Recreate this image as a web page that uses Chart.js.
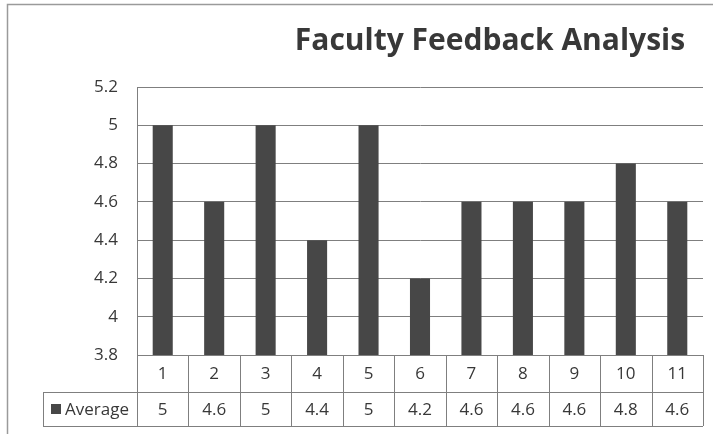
<!DOCTYPE html>
<html>
<head>
<meta charset="utf-8">
<script src="https://cdn.jsdelivr.net/npm/chart.js@4/dist/chart.umd.min.js"></script>
<style>
html,body{margin:0;padding:0;background:#fff;}
#wrap{width:713px;height:434px;position:relative;}
</style>
</head>
<body>
<div id="wrap"><canvas id="c" width="713" height="434"></canvas></div>
<script>
// faculty numbers and their average feedback score
const faculty = ["1","2","3","4","5","6","7","8","9","10","11"];
const average = [5, 4.6, 5, 4.4, 5, 4.2, 4.6, 4.6, 4.6, 4.8, 4.6];
const seriesName = "Average";
const chartTitle = "Faculty Feedback Analysis";

const FONT = "'Open Sans', 'DejaVu Sans', sans-serif";
const TEXT = "#383838";
const LINE = "#7f7f7f";
const BAR = "#474747";

// outer frame + title + data table under the plot
const tablePlugin = {
    id: "dataTable",
    afterDraw(chart){
        const ctx = chart.ctx, a = chart.chartArea, x = chart.scales.x;
        const row1 = a.bottom, row2 = a.bottom + 37, row3 = a.bottom + 71;
        const legendLeft = 43;
        ctx.save();
        // frame
        ctx.strokeStyle = "#9a9a9a"; ctx.lineWidth = 1.5;
        ctx.beginPath(); ctx.moveTo(7.5, 434); ctx.lineTo(7.5, 4.5); ctx.lineTo(713, 4.5); ctx.stroke();

        // title
        ctx.fillStyle = TEXT;
        ctx.font = "bold 30px " + FONT;
        ctx.textAlign = "center"; ctx.textBaseline = "middle";
        ctx.fillText(chartTitle, 490, 41);

        // grid of the table
        ctx.strokeStyle = LINE; ctx.lineWidth = 1;
        ctx.beginPath();
        ctx.moveTo(a.left, row1 + .5); ctx.lineTo(a.right, row1 + .5);
        ctx.moveTo(legendLeft, row2 + .5); ctx.lineTo(a.right, row2 + .5);
        ctx.moveTo(legendLeft, row3 + .5); ctx.lineTo(a.right, row3 + .5);
        ctx.moveTo(legendLeft + .5, row2); ctx.lineTo(legendLeft + .5, row3);
        const w = (a.right - a.left) / faculty.length;
        for(let i = 0; i <= faculty.length; i++){
            const px = Math.round(a.left + i * w) + .5;
            ctx.moveTo(px, row1); ctx.lineTo(px, row3);
        }
        ctx.stroke();

        // labels and values
        ctx.font = "17px " + FONT;
        ctx.fillStyle = TEXT;
        faculty.forEach((f, i) => {
            const cx = x.getPixelForValue(i);
            ctx.fillText(f, cx, (row1 + row2) / 2 + 1);
            ctx.fillText(String(average[i]), cx, (row2 + row3) / 2 + 1);
        });

        // legend key
        ctx.fillStyle = BAR;
        ctx.fillRect(51, (row2 + row3) / 2 - 5, 10, 10);
        ctx.fillStyle = TEXT;
        ctx.textAlign = "left";
        ctx.fillText(seriesName, 65, (row2 + row3) / 2 + 1);
        ctx.restore();
    }
};

new Chart(document.getElementById("c"), {
    type: "bar",
    data: {
        labels: faculty,
        datasets: [{
            label: seriesName,
            data: average,
            backgroundColor: BAR,
            borderWidth: 0,
            barPercentage: 0.39,
            categoryPercentage: 1
        }]
    },
    options: {
        responsive: false,
        animation: false,
        layout: {padding: {top: 87, right: 10, bottom: 79, left: 0}},
        plugins: {legend: {display: false}, title: {display: false}, tooltip: {enabled: false}},
        scales: {
            x: {display: false},
            y: {
                min: 3.8, max: 5.2,
                afterFit: s => { s.width = 137; },
                ticks: {
                    stepSize: 0.2,
                    padding: 19,
                    color: TEXT,
                    font: {family: FONT, size: 17},
                    callback: v => String(Math.round(v * 10) / 10)
                },
                grid: {color: LINE, drawTicks: false},
                border: {display: true, color: LINE}
            }
        }
    },
    plugins: [tablePlugin]
});
</script>
</body>
</html>
